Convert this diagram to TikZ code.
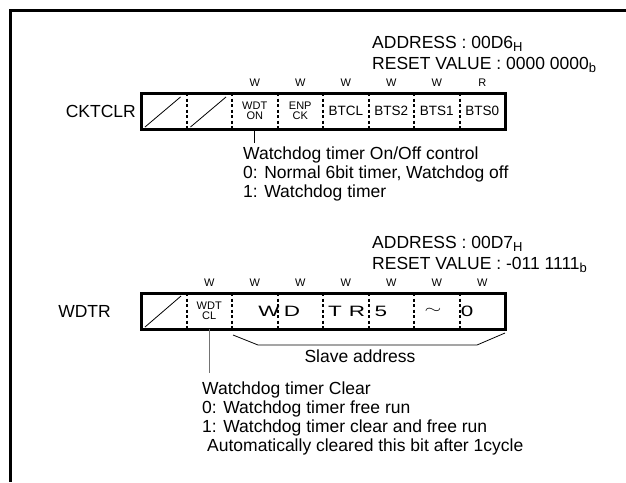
\documentclass[tikz,border=0pt]{standalone}
\usepackage{fontspec}
\setmainfont{Liberation Sans}
\usetikzlibrary{positioning}

\begin{document}
\begin{tikzpicture}[x=1pt, y=-1pt,
  outline/.style={line width=3pt},
  regbox/.style={draw, line width=3pt},
  sepline/.style={line width=2pt, dash pattern=on 3pt off 2.5pt},
  slash/.style={line width=0.8pt},
  cell/.style={minimum width=45.5pt, minimum height=36pt, inner sep=0pt,
               font=\fontsize{13.5}{13.5}\selectfont},
  cellsm/.style={cell, align=center, font=\fontsize{11}{10}\selectfont},
  rw/.style={inner sep=0pt, font=\fontsize{11}{11}\selectfont},
  regname/.style={inner sep=0pt, anchor=east, font=\fontsize{17.5}{17.5}\selectfont},
  note/.style={inner sep=0pt, align=left, anchor=north west,
               font=\fontsize{17.5}{19}\selectfont},
  addr/.style={inner sep=0pt, anchor=base west, font=\fontsize{17.5}{17.5}\selectfont},
  bigch/.style={inner sep=0pt, xscale=1.5, font=\fontsize{15}{15}\selectfont},
  pointer/.style={line width=0.8pt}
]
\useasboundingbox (0,0) rectangle (626,482);

\draw[outline] (626,10) -- (10,10) -- (10,482);

% CKTCLR
\node[addr] (ckaddr) at (372,48) {ADDRESS : 00D6\raisebox{-3pt}{\fontsize{13}{13}\selectfont H}};
\node[addr] (ckreset) at (372,69) {RESET VALUE : 0000 0000\raisebox{-3pt}{\fontsize{13}{13}\selectfont b}};

\node[regname] (ckname) at (136,111) {CKTCLR};
\draw[regbox] (141,93) rectangle (505,129);
\foreach \i in {1,...,7}
  \draw[sepline] ({141+45.5*\i},93) -- ({141+45.5*\i},129);
\foreach \i in {0,1}
  \draw[slash] ({141+45.5*\i+4},127) -- ({141+45.5*(\i+1)-6},97);

\foreach \t [count=\i from 3] in {W,W,W,W,W,R}
  \node[rw] (ckrw\i) at ({141+45.5*\i-22.75},82.5) {\t};

\node[cellsm] (wdton) at (254.75,111) {WDT\\ON};
\node[cellsm] (enpck) at (300.25,111) {ENP\\CK};
\node[cell] (btcl) at (345.75,111) {BTCL};
\node[cell] (bts2) at (391.25,111) {BTS2};
\node[cell] (bts1) at (436.75,111) {BTS1};
\node[cell] (bts0) at (482.25,111) {BTS0};

\draw[pointer] (wdton.south) -- ++(0,14) coordinate (ckend);
\node[note] (ckdesc) at (243,147) {Watchdog timer On/Off control\\
  0: Normal 6bit timer, Watchdog off\\
  1: Watchdog timer};

% WDTR
\node[addr] (wdaddr) at (372,248) {ADDRESS : 00D7\raisebox{-3pt}{\fontsize{13}{13}\selectfont H}};
\node[addr] (wdreset) at (372,269) {RESET VALUE : -011 1111\raisebox{-3pt}{\fontsize{13}{13}\selectfont b}};

\node[regname] (wdname) at (111,311) {WDTR};
\draw[regbox] (141,293) rectangle (505,329);
\foreach \i in {1,...,7}
  \draw[sepline] ({141+45.5*\i},293) -- ({141+45.5*\i},329);
\draw[slash] (145,327) -- (181,296);

\foreach \i in {2,...,8}
  \node[rw] (wdrw\i) at ({141+45.5*\i-22.75},283) {W};

\node[cellsm] (wdtcl) at (209.25,311) {WDT\\CL};
\foreach \ch/\xx [count=\k] in {W/269, D/292, T/335, R/357, 5/381, $\sim$/433, 0/467}
  \node[bigch] (big\k) at (\xx,311) {\ch};

\draw[pointer] (233,335) -- (258,345) -- (477,345) -- (505,333);
\node[inner sep=0pt, font=\fontsize{17.5}{17.5}\selectfont] (slave) at (360,356) {Slave address};

\draw[pointer, black!55] (wdtcl.south) -- ++(0,44) coordinate (wdend);
\node[note] (wddesc) at (202,382) {Watchdog timer Clear\\
  0: Watchdog timer free run\\
  1: Watchdog timer clear and free run\\
  \hspace{5pt}Automatically cleared this bit after 1cycle};

\end{tikzpicture}
\end{document}
